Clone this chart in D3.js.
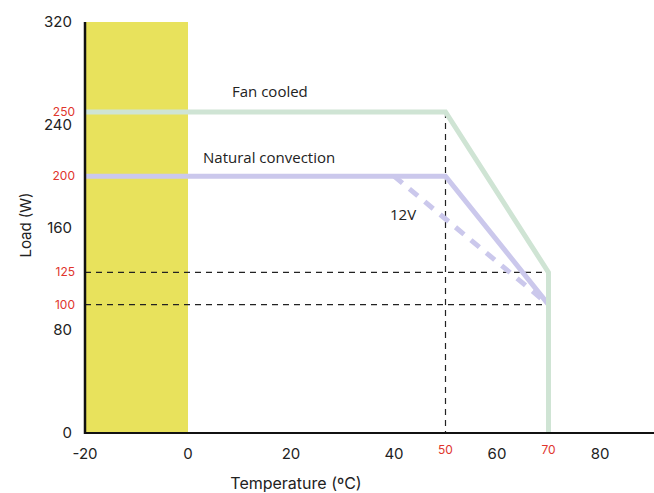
<!DOCTYPE html>
<html>
<head>
<meta charset="utf-8">
<script src="https://cdn.jsdelivr.net/npm/d3@7"></script>
<style>
  body { margin: 0; background: #fff; }
  svg { display: block; }
</style>
</head>
<body>
<svg id="chart"></svg>
<script>
// derating curve data
const fanCooled = [{t: -20, w: 250}, {t: 50, w: 250}, {t: 70, w: 125}, {t: 70, w: 0}];
const naturalConv = [{t: -20, w: 200}, {t: 50, w: 200}, {t: 70, w: 100}];
const conv12V = [{t: 40, w: 200}, {t: 70, w: 100}];
const yTicks = [0, 80, 160, 240, 320];
const yMarks = [100, 125, 200, 250];
const xTicks = [-20, 0, 20, 40, 60, 80];
const xMarks = [50, 70];
const coldBand = [-20, 0];

var W = 654, H = 493;
var svg = d3.select("#chart").attr("width", W).attr("height", H);

var x = d3.scaleLinear().domain([-20, 80]).range([85, 600]);
var y = d3.scaleLinear().domain([0, 320]).range([433, 22]);

// yellow band
svg.append("rect")
    .attr("x", x(coldBand[0]))
    .attr("y", y(320))
    .attr("width", x(coldBand[1]) - x(coldBand[0]))
    .attr("height", y(0) - y(320))
    .style("fill", "#e8e25c");

// dashed guides
yMarks.filter(d => d < 150).forEach(v => {
    svg.append("line")
        .attr("x1", x(-20)).attr("x2", x(70))
        .attr("y1", y(v)).attr("y2", y(v))
        .attr("stroke", "#222").attr("stroke-width", 1.2)
        .attr("stroke-dasharray", "6,5");
});
svg.append("line")
    .attr("x1", x(50)).attr("x2", x(50))
    .attr("y1", y(250)).attr("y2", y(0))
    .attr("stroke", "#222").attr("stroke-width", 1.2)
    .attr("stroke-dasharray", "6,5");

var line = d3.line().x(d => x(d.t)).y(d => y(d.w));

svg.append("path").datum(conv12V)
    .attr("fill", "none").attr("stroke", "#cbc8ec").attr("stroke-width", 5)
    .attr("stroke-dasharray", "11,9")
    .attr("d", line);
svg.append("path").datum(naturalConv)
    .attr("fill", "none").attr("stroke", "#cbc8ec").attr("stroke-width", 5)
    .attr("d", line);
svg.append("path").datum(fanCooled)
    .attr("fill", "none").attr("stroke", "#cfe4d4").attr("stroke-width", 5)
    .attr("d", line);

// axes
svg.append("line")
    .attr("x1", x(-20)).attr("x2", W)
    .attr("y1", y(0)).attr("y2", y(0))
    .attr("stroke", "#111").attr("stroke-width", 2);
svg.append("line")
    .attr("x1", x(-20)).attr("x2", x(-20))
    .attr("y1", y(320)).attr("y2", y(0) + 1)
    .attr("stroke", "#111").attr("stroke-width", 2.5);

var font = "Inter, 'Noto Sans', sans-serif";

svg.selectAll("text.ytick").data(yTicks).enter().append("text")
    .attr("x", 72).attr("y", d => y(d) + 5)
    .attr("text-anchor", "end")
    .attr("font-family", font).attr("font-size", 15)
    .attr("fill", "#222")
    .text(d => d);
svg.selectAll("text.ymark").data(yMarks).enter().append("text")
    .attr("x", 75).attr("y", d => y(d) + 4)
    .attr("text-anchor", "end")
    .attr("font-family", font).attr("font-size", 12)
    .attr("fill", "#e0352d")
    .text(d => d);

svg.selectAll("text.xtick").data(xTicks).enter().append("text")
    .attr("x", d => x(d)).attr("y", 459)
    .attr("text-anchor", "middle")
    .attr("font-family", font).attr("font-size", 15)
    .attr("fill", "#222")
    .text(d => d);
svg.selectAll("text.xmark").data(xMarks).enter().append("text")
    .attr("x", d => x(d)).attr("y", 454)
    .attr("text-anchor", "middle")
    .attr("font-family", font).attr("font-size", 12)
    .attr("fill", "#e0352d")
    .text(d => d);

// titles
svg.append("text")
    .attr("x", 296).attr("y", 489)
    .attr("text-anchor", "middle")
    .attr("font-family", font).attr("font-size", 16)
    .attr("fill", "#222")
    .text("Temperature (ºC)");
svg.append("text")
    .attr("transform", "translate(31,225) rotate(-90)")
    .attr("text-anchor", "middle")
    .attr("font-family", font).attr("font-size", 15)
    .attr("fill", "#222")
    .text("Load (W)");

// curve labels
var lblFont = "'Open Sans', sans-serif";
svg.append("text").attr("x", 232).attr("y", 97)
    .attr("font-family", lblFont).attr("font-size", 15).attr("fill", "#222")
    .text("Fan cooled");
svg.append("text").attr("x", 203).attr("y", 163)
    .attr("font-family", lblFont).attr("font-size", 15).attr("fill", "#222")
    .text("Natural convection");
svg.append("text").attr("x", 390).attr("y", 220)
    .attr("font-family", lblFont).attr("font-size", 15).attr("fill", "#222")
    .text("12V");
</script>
</body>
</html>
